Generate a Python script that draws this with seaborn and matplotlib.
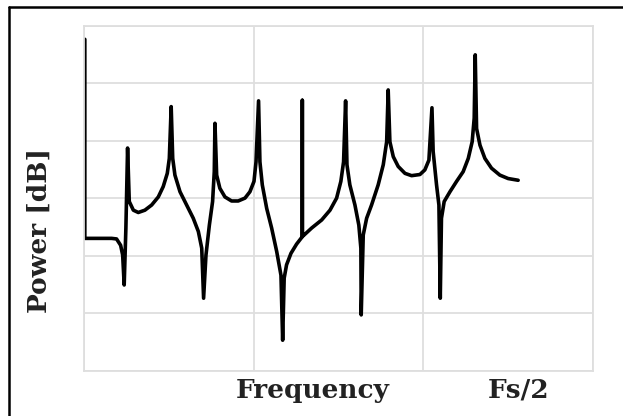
import numpy as np
import pandas as pd
import matplotlib
matplotlib.use("Agg")
import matplotlib.pyplot as plt
from matplotlib.lines import Line2D
import seaborn as sns

# Frequency response sketch (x in grid units up to Fs/2, y in dB)
freq = [0.005, 0.005, 0.163, 0.192, 0.216, 0.228, 0.237, 0.247, 0.257, 0.267,
        0.291, 0.320, 0.359, 0.399, 0.438, 0.467, 0.491, 0.503, 0.514, 0.523,
        0.536, 0.566, 0.605, 0.644, 0.674, 0.694, 0.705, 0.719, 0.739, 0.758,
        0.768, 0.772, 0.782, 0.801, 0.831, 0.870, 0.909, 0.949, 0.978, 1.002,
        1.014, 1.029, 1.037, 1.051, 1.077, 1.106, 1.136, 1.161, 1.171, 1.180,
        1.194, 1.220, 1.253, 1.287, 1.287, 1.287, 1.342, 1.401, 1.450, 1.489,
        1.514, 1.530, 1.542, 1.550, 1.567, 1.597, 1.620, 1.632, 1.634, 1.646,
        1.666, 1.695, 1.734, 1.764, 1.784, 1.793, 1.803, 1.823, 1.852, 1.892,
        1.931, 1.980, 2.009, 2.033, 2.051, 2.058, 2.078, 2.092, 2.100, 2.107,
        2.123, 2.157, 2.196, 2.235, 2.265, 2.288, 2.300, 2.306, 2.314, 2.334,
        2.363, 2.402, 2.451, 2.500, 2.559]
power_db = [-2.4, -37.0, -37.0, -37.1, -38.2, -39.9, -45.1, -35.2, -21.3, -30.6,
            -32.1, -32.5, -32.1, -31.2, -29.8, -28.0, -25.7, -23.1, -14.1, -23.1,
            -26.0, -28.9, -31.2, -33.5, -35.8, -38.7, -47.4, -39.9, -34.7, -30.6,
            -25.4, -17.0, -26.0, -28.3, -29.8, -30.5, -30.5, -30.0, -28.9, -27.1,
            -23.7, -13.1, -23.7, -27.7, -31.8, -35.2, -39.3, -43.4, -54.7, -43.9,
            -41.6, -39.6, -38.0, -36.7, -13.0, -36.7, -35.2, -33.8, -32.1, -30.0,
            -27.1, -23.7, -13.1, -24.2, -27.7, -31.2, -34.7, -38.7, -50.3, -36.4,
            -33.5, -31.2, -27.7, -24.2, -20.2, -11.2, -20.2, -22.8, -24.5, -25.7,
            -26.1, -25.9, -25.1, -23.4, -14.3, -21.9, -27.7, -31.2, -47.4, -33.5,
            -30.6, -28.9, -27.1, -25.4, -23.1, -20.2, -16.1, -5.1, -17.9, -20.8,
            -23.1, -24.8, -26.0, -26.6, -26.9]

df = pd.DataFrame({"freq": freq, "power": power_db})

sns.set_theme(style="whitegrid")
plt.rcParams["font.family"] = ["DejaVu Serif"]

fig = plt.figure(figsize=(6.23, 4.16), dpi=100)
ax = fig.add_axes([0.1348, 0.1089, 0.8170, 0.8298])

sns.lineplot(data=df, x="freq", y="power", sort=False, estimator=None,
             color="black", lw=2.6, ax=ax)
for l in ax.lines:
    l.set_solid_joinstyle("round")
    l.set_solid_capstyle("round")

ax.set_xlim(0, 3)
ax.set_ylim(-60, 0)
ax.set_xticks([0, 1, 2, 3])
ax.set_yticks(np.arange(-60, 1, 10))
ax.tick_params(labelbottom=False, labelleft=False, length=0)
ax.grid(True, color="#dedede", lw=1.3)
for s in ax.spines.values():
    s.set_color("#dedede")
    s.set_linewidth(1.3)

lab = dict(fontsize=19, fontweight="bold", color="#222222")
ax.set_xlabel("Frequency", **lab)
ax.xaxis.set_label_coords(0.45, -0.02)
ax.set_ylabel("Power [dB]", **lab)
ax.yaxis.set_label_coords(-0.064, 0.405)
ax.annotate("Fs/2", xy=(freq[-1], -0.02), xycoords=("data", "axes fraction"),
            ha="center", va="top", **lab)

# black frame (left and top edges visible)
fig.add_artist(Line2D([0.0152, 0.0152], [0, 0.984], color="black", lw=1.8,
                      transform=fig.transFigure))
fig.add_artist(Line2D([0.0152, 1.0], [0.984, 0.984], color="black", lw=1.8,
                      transform=fig.transFigure))

fig.savefig("out.png", dpi=100)
